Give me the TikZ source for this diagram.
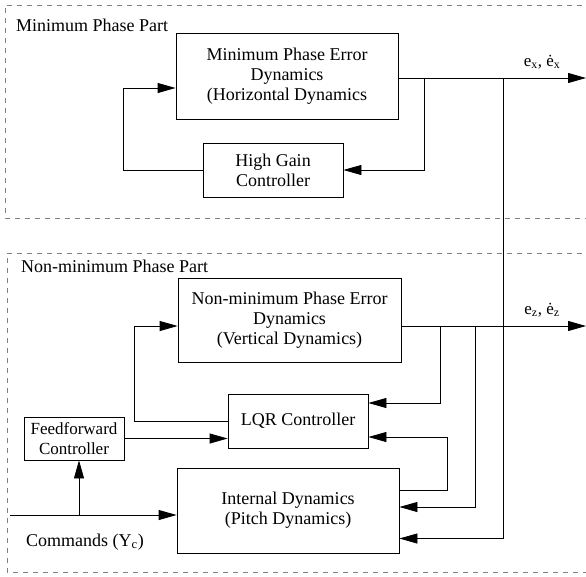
\documentclass[tikz,border=0pt]{standalone}
\usepackage{fontspec}
\setmainfont{Liberation Serif}
\usepackage{tikz}
\usetikzlibrary{
  arrows.meta,
  positioning,
  calc
}

\begin{document}
\begin{tikzpicture}[
  x=1pt, y=-1pt,
  blk/.style={draw=black, line width=0.8pt, fill=white, align=center,
              inner sep=0pt, font=\fontsize{18}{20}\selectfont},
  part/.style={draw=gray, dashed, dash pattern=on 5pt off 5pt, line width=0.8pt},
  sig/.style={draw=black, line width=0.8pt},
  arr/.style={sig, -{Triangle[length=18pt, width=10pt]}},
  tag/.style={font=\fontsize{18}{20}\selectfont, anchor=west, inner sep=0pt}
]
\useasboundingbox (0,0) rectangle (586,576);

% dashed parts
\draw[part] (592,5) -- (5,5) -- (5,218) -- (592,218);
\draw[part] (592,253) -- (7,253) -- (7,572) -- (592,572);
\node[tag] (minpart) at (16,25) {Minimum Phase Part};
\node[tag] (nonpart) at (21,266) {Non-minimum Phase Part};

% blocks
\node[blk, minimum width=222pt, minimum height=86pt] (mpe) at (287,76)
  {Minimum Phase Error\\Dynamics\\(Horizontal Dynamics};
\node[blk, minimum width=140pt, minimum height=54pt] (hgc) at (273,170)
  {High Gain\\Controller};
\node[blk, minimum width=223pt, minimum height=84pt] (nmpe) at (289.5,320)
  {Non-minimum Phase Error\\Dynamics\\(Vertical Dynamics)};
\node[blk, minimum width=140pt, minimum height=54pt] (lqr) at (298,421)
  {LQR Controller};
\node[blk, minimum width=100pt, minimum height=43pt,
      font=\fontsize{17}{20}\selectfont] (ffc) at (74,438.5)
  {Feedforward\\Controller};
\node[blk, minimum width=222pt, minimum height=85pt] (intd) at (288,510.5)
  {Internal Dynamics\\(Pitch Dynamics)};

% taps and free ends
\coordinate (ex) at (586,78);
\coordinate (tapA) at (424,78);
\coordinate (tapB) at (503,78);
\coordinate (fbA) at (123,88);
\coordinate (ez) at (586,326);
\coordinate (tapC) at (440,326);
\coordinate (tapD) at (475,326);
\coordinate (fbB) at (134,326);
\coordinate (cmd) at (10,515);
\coordinate (tapE) at (79,515);

% minimum phase loop
\draw[arr] (mpe.east |- ex) -- (ex);
\draw[arr] (tapA) |- (hgc.east);
\draw[arr] (hgc.west) -| (fbA) -- (mpe.west |- fbA);
\draw[arr] (tapB) |- ([yshift=-28pt]intd.east);

% non-minimum phase loop
\draw[arr] (nmpe.east |- ez) -- (ez);
\draw[arr] (tapC) |- ([yshift=18pt]lqr.east);
\draw[arr] (tapD) |- ([yshift=3.5pt]intd.east);
\draw[arr] ([yshift=20pt]intd.east) -- ++(48,0) |- ([yshift=-16pt]lqr.east);
\draw[arr] (lqr.west) -| (fbB) -- (nmpe.west |- fbB);
\draw[arr] (ffc.east) -- (lqr.west |- ffc.east);
\draw[arr] (cmd) -- (intd.west |- cmd);
\draw[arr] (tapE) -- (tapE |- ffc.south);

% signal labels
\node[font=\fontsize{17}{18}\selectfont] (exlab) at (542,62)
  {e\textsubscript{x}, ė\textsubscript{x}};
\node[font=\fontsize{17}{18}\selectfont] (ezlab) at (542,310)
  {e\textsubscript{z}, ė\textsubscript{z}};
\node[font=\fontsize{18}{20}\selectfont] (cmdlab) at (85,542)
  {Commands (Y\textsubscript{c})};

\end{tikzpicture}
\end{document}
